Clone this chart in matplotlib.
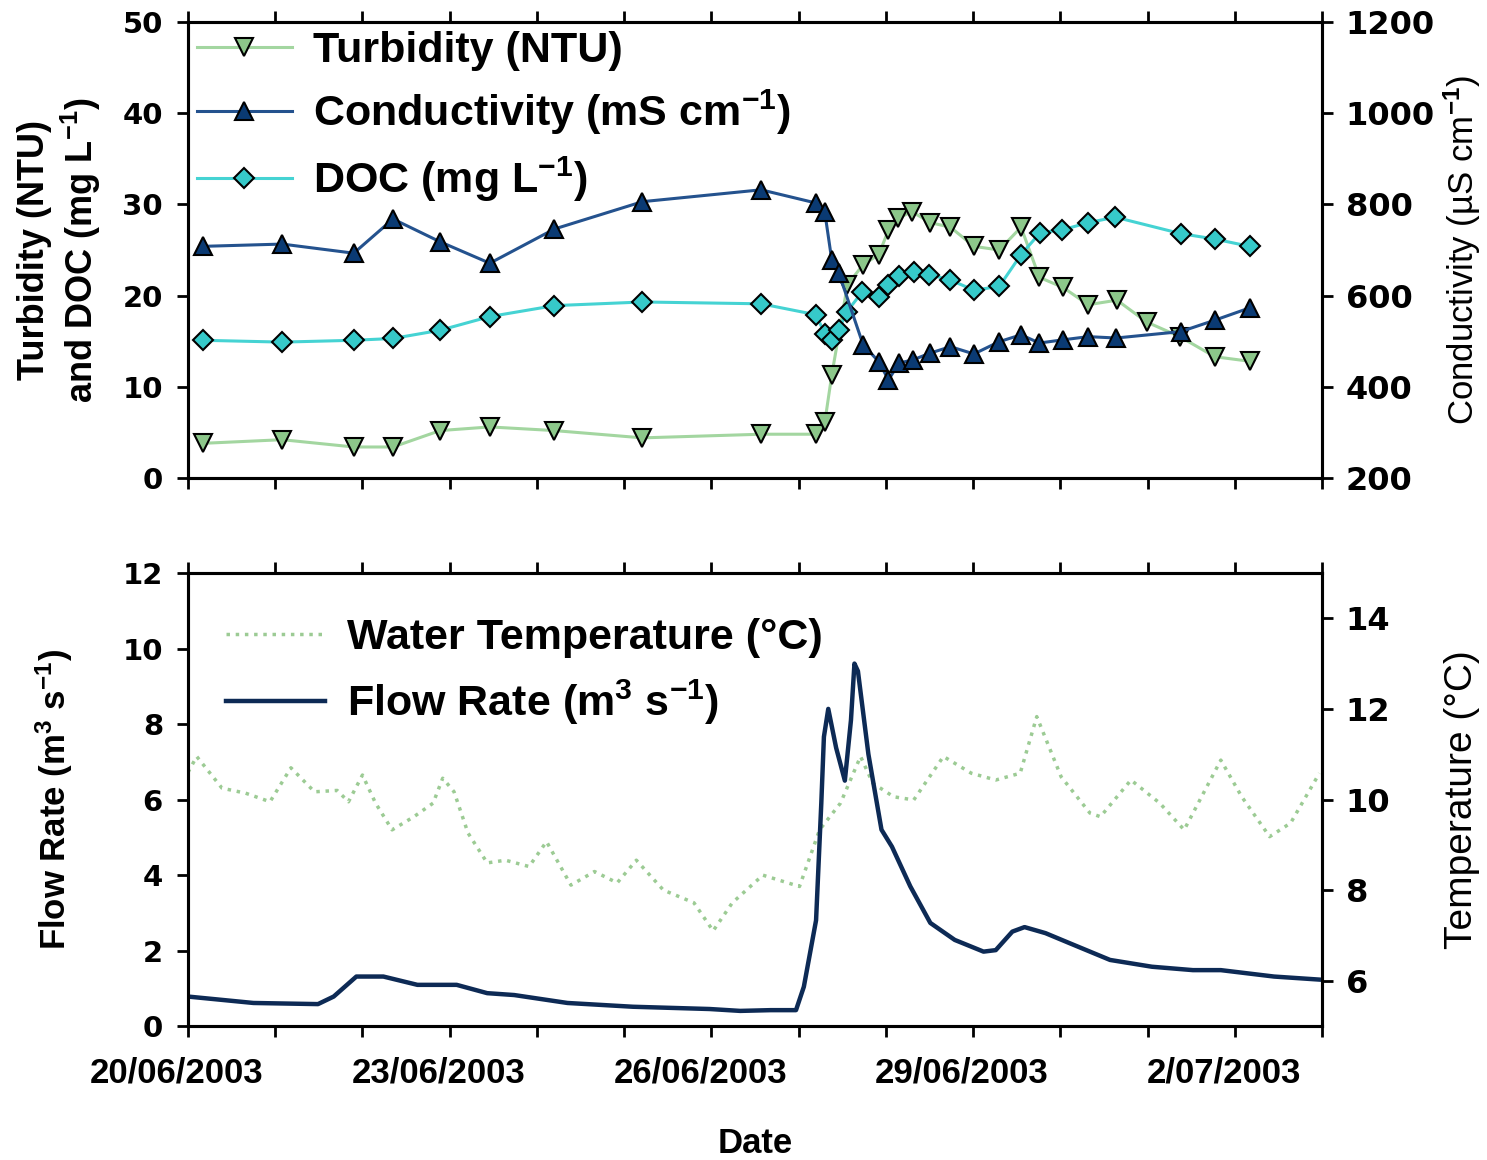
import matplotlib
matplotlib.use("Agg")
import matplotlib.pyplot as plt
import matplotlib.transforms as mtransforms
from matplotlib.ticker import MultipleLocator, FixedLocator

# x values are days since 20/06/2003 00:00
TICK_DAYS = [0, 3, 6, 9, 12]
TICK_LABELS = ["20/06/2003", "23/06/2003", "26/06/2003", "29/06/2003", "2/07/2003"]

# top panel: grab samples
turb_day = [0.17, 1.08, 1.90, 2.35, 2.89, 3.46, 4.20, 5.21, 6.57, 7.20, 7.30, 7.38,
            7.56, 7.74, 7.92, 8.03, 8.14, 8.30, 8.51, 8.74, 9.01, 9.30, 9.55, 9.76,
            10.03, 10.32, 10.65, 10.99, 11.37, 11.77, 12.17]
turbidity = [3.8, 4.2, 3.4, 3.4, 5.2, 5.6, 5.2, 4.4, 4.8, 4.8, 6.1, 11.3,
             21.2, 23.4, 24.5, 27.2, 28.5, 29.2, 28.0, 27.5, 25.4, 25.0, 27.5, 22.0,
             20.9, 19.0, 19.5, 17.1, 15.5, 13.3, 12.8]

cond_day = [0.17, 1.08, 1.90, 2.35, 2.89, 3.46, 4.20, 5.21, 6.57, 7.20, 7.30, 7.38,
            7.46, 7.74, 7.92, 8.03, 8.15, 8.31, 8.51, 8.74, 9.01, 9.30, 9.55, 9.76,
            10.03, 10.32, 10.64, 11.38, 11.77, 12.17]
conductivity = [708, 713, 693, 768, 718, 671, 746, 806, 832, 803, 783, 678,
                650, 492, 455, 415, 452, 459, 474, 488, 472, 499, 514, 496,
                503, 510, 507, 521, 546, 573]

doc_day = [0.17, 1.08, 1.90, 2.35, 2.89, 3.46, 4.20, 5.21, 6.57, 7.20, 7.30, 7.38,
           7.46, 7.55, 7.73, 7.92, 8.03, 8.15, 8.32, 8.50, 8.74, 9.01, 9.30, 9.55,
           9.77, 10.02, 10.32, 10.63, 11.38, 11.77, 12.17]
doc = [15.1, 14.9, 15.1, 15.3, 16.2, 17.7, 18.9, 19.3, 19.1, 17.9, 15.8, 15.1,
       16.2, 18.2, 20.4, 19.9, 21.2, 22.1, 22.6, 22.3, 21.7, 20.6, 21.0, 24.5,
       26.9, 27.2, 28.0, 28.6, 26.8, 26.2, 25.4]

# bottom panel: continuous records
flow_day = [0.0, 0.75, 1.49, 1.67, 1.93, 2.24, 2.63, 3.08, 3.43, 3.74, 4.35, 5.10,
            5.98, 6.33, 6.68, 6.97, 7.06, 7.20, 7.26, 7.29, 7.34, 7.43, 7.53, 7.60,
            7.64, 7.68, 7.80, 7.95, 8.07, 8.28, 8.51, 8.79, 9.12, 9.26, 9.45, 9.59,
            9.83, 10.10, 10.57, 11.05, 11.52, 11.84, 12.45, 13.03]
flow = [0.78, 0.61, 0.58, 0.78, 1.31, 1.31, 1.09, 1.09, 0.87, 0.82, 0.61, 0.51,
        0.45, 0.40, 0.42, 0.42, 1.04, 2.8, 5.9, 7.66, 8.4, 7.37, 6.5, 8.1,
        9.6, 9.4, 7.2, 5.2, 4.75, 3.7, 2.73, 2.28, 1.97, 2.01, 2.5, 2.62,
        2.46, 2.2, 1.75, 1.57, 1.48, 1.48, 1.31, 1.22]

temp_day = [0.0, 0.10, 0.39, 0.66, 0.94, 1.18, 1.45, 1.71, 1.84, 2.00, 2.15, 2.34,
            2.59, 2.81, 2.92, 3.05, 3.21, 3.43, 3.64, 3.91, 4.11, 4.39, 4.66, 4.92,
            5.14, 5.45, 5.80, 6.02, 6.24, 6.59, 7.01, 7.24, 7.48, 7.71, 7.85, 8.09,
            8.32, 8.66, 8.98, 9.26, 9.54, 9.73, 10.01, 10.34, 10.46, 10.81, 11.14, 11.42,
            11.84, 12.08, 12.40, 12.64, 12.97]
temperature = [10.6, 10.95, 10.25, 10.14, 9.95, 10.7, 10.17, 10.2, 9.95, 10.54, 9.92, 9.33,
               9.62, 9.92, 10.47, 10.17, 9.26, 8.6, 8.66, 8.52, 9.07, 8.11, 8.41, 8.16,
               8.66, 8.0, 7.72, 7.1, 7.72, 8.33, 8.08, 9.33, 9.92, 10.95, 10.36, 10.06,
               9.99, 10.95, 10.58, 10.43, 10.58, 11.83, 10.5, 9.7, 9.62, 10.43, 9.92, 9.33,
               10.87, 10.06, 9.18, 9.48, 10.58]

TURB_LINE, TURB_FACE = "#a3d6a0", "#8cc78a"
COND_LINE, COND_FACE = "#24528e", "#0a3a73"
DOC_LINE, DOC_FACE = "#45d3d3", "#36c9c9"
FLOW_COLOR = "#0d2a55"
TEMP_COLOR = "#9ccb94"

plt.rcParams["font.family"] = ["Liberation Sans", "DejaVu Sans"]
plt.rcParams["mathtext.fontset"] = "custom"
plt.rcParams["mathtext.rm"] = "Liberation Sans:bold"
plt.rcParams["mathtext.bf"] = "Liberation Sans:bold"
plt.rcParams["mathtext.it"] = "Liberation Sans:bold"

AX_LEFT, AX_W = 188 / 1487, 1134 / 1487
RIGHT_LABEL_X = (1462 - 188) / 1134   # axes coords of right-hand labels


def style_axes(ax, ax_r):
    for a in (ax, ax_r):
        for s in a.spines.values():
            s.set_linewidth(2.2)
    ax.set_xlim(0, 13)
    ax.xaxis.set_major_locator(MultipleLocator(1))
    ax.tick_params(axis="x", which="both", direction="out", length=8, width=2,
                   top=True, bottom=True)
    ax.tick_params(axis="y", direction="out", length=8, width=2, pad=10, labelsize=21)
    ax_r.tick_params(axis="y", direction="out", length=8, width=2, pad=9, labelsize=23)
    for lab in ax.get_yticklabels() + ax_r.get_yticklabels():
        lab.set_family("DejaVu Sans")
        lab.set_weight("bold")


def right_label(ax_r, text, size):
    ax_r.set_ylabel(text, fontsize=size)
    ax_r.yaxis.set_label_coords(RIGHT_LABEL_X, 0.5)
    ax_r.yaxis.label.set_ha("center")
    ax_r.yaxis.label.set_va("center")


fig = plt.figure(figsize=(14.87, 11.6), dpi=100)
ax1 = fig.add_axes([AX_LEFT, 1 - 478 / 1160, AX_W, 456 / 1160])
ax2 = fig.add_axes([AX_LEFT, 1 - 1026 / 1160, AX_W, 453 / 1160])

# ---- top panel ----
ax1r = ax1.twinx()
h1, = ax1.plot(turb_day, turbidity, color=TURB_LINE, lw=2.2, marker="v", ms=13,
               mfc=TURB_FACE, mec="black", mew=1.5, label="Turbidity (NTU)")
h3, = ax1.plot(doc_day, doc, color=DOC_LINE, lw=2.2, marker="D", ms=10.5,
               mfc=DOC_FACE, mec="black", mew=1.5, label="DOC (mg L$^{-1}$)")
h2, = ax1r.plot(cond_day, conductivity, color=COND_LINE, lw=2.2, marker="^", ms=13,
                mfc=COND_FACE, mec="black", mew=1.5,
                label="Conductivity (mS cm$^{-1}$)")
ax1.set_ylim(0, 50)
ax1.yaxis.set_major_locator(MultipleLocator(10))
ax1r.set_ylim(200, 1200)
ax1r.yaxis.set_major_locator(MultipleLocator(200))
style_axes(ax1, ax1r)
ax1.tick_params(axis="x", labelbottom=False)
ax1.set_ylabel("Turbidity (NTU)\nand DOC (mg L$^{-1}$)", fontsize=26,
               fontweight="bold", linespacing=1.2, labelpad=14)
right_label(ax1r, "Conductivity (\u00b5S cm$^{-1}$)", 25)
ax1r.legend(handles=[h1, h2, h3], loc="upper left", bbox_to_anchor=(0.004, 0.99),
            frameon=False, prop={"weight": "bold", "size": 31},
            handlelength=2.2, handletextpad=0.5, labelspacing=0.4,
            borderaxespad=0.0, borderpad=0.1)

# ---- bottom panel ----
ax2r = ax2.twinx()
h4, = ax2r.plot(temp_day, temperature, color=TEMP_COLOR, lw=2.5, ls=":",
                label="Water Temperature (\u00b0C)")
h5, = ax2.plot(flow_day, flow, color=FLOW_COLOR, lw=3.2,
               label="Flow Rate (m$^3$ s$^{-1}$)")
ax2.set_zorder(ax2r.get_zorder() + 1)
ax2.patch.set_visible(False)
ax2.set_ylim(0, 12)
ax2.yaxis.set_major_locator(MultipleLocator(2))
ax2r.set_ylim(5, 15)
ax2r.yaxis.set_major_locator(FixedLocator([6, 8, 10, 12, 14]))
style_axes(ax2, ax2r)
ax2.set_xticks(TICK_DAYS)
ax2.set_xticks(range(0, 14), minor=True)
ax2.set_xticklabels(TICK_LABELS, fontsize=25, fontweight="bold")
ax2.tick_params(axis="x", which="both", length=8, width=2, pad=14)
shift = mtransforms.ScaledTranslation(-11 / 100, 0, fig.dpi_scale_trans)
for lab in ax2.get_xticklabels():
    lab.set_transform(lab.get_transform() + shift)
ax2.set_xlabel("Date", fontsize=25, fontweight="bold", labelpad=27)
ax2.set_ylabel("Flow Rate (m$^3$ s$^{-1}$)", fontsize=25, fontweight="bold",
               labelpad=34)
right_label(ax2r, "Temperature (\u00b0C)", 28)
ax2.legend(handles=[h4, h5], loc="upper left", bbox_to_anchor=(0.03, 0.91),
           frameon=False, prop={"weight": "bold", "size": 31},
           handlelength=2.3, handletextpad=0.5, labelspacing=0.45,
           borderaxespad=0.0, borderpad=0.1)

fig.savefig("out.png", dpi=100)
